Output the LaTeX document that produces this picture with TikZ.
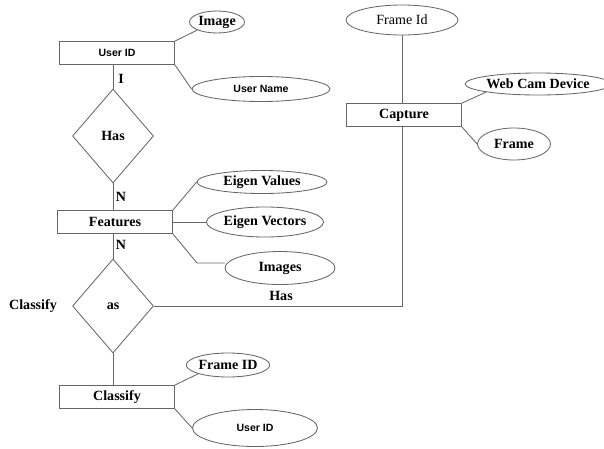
\documentclass[tikz,border=0pt]{standalone}
\usepackage{fontspec}
\setmainfont{Liberation Serif}
\setsansfont{Liberation Sans}
\usetikzlibrary{shapes.geometric}

\begin{document}
\begin{tikzpicture}[x=0.025cm,y=-0.025cm,
  line/.style={draw=gray!80!black,line width=0.6pt},
  entity/.style={line,rectangle,minimum width=115*0.025cm,minimum height=23*0.025cm,inner sep=0pt},
  attrib/.style={line,ellipse,inner sep=0pt},
  relation/.style={line,diamond,minimum width=81*0.025cm,minimum height=94*0.025cm,inner sep=0pt},
  bold/.style={font=\fontsize{10}{12}\selectfont\bfseries},
  narrow/.style={font=\fontsize{7.5}{9}\selectfont\sffamily\bfseries},
  plain/.style={font=\fontsize{10}{12}\selectfont}]

 \useasboundingbox (0,0) rectangle (604,448);

% User side
 \node[entity,narrow] (userid) at (117,53) {User ID};
 \node[attrib,bold,minimum width=55*0.025cm,minimum height=22*0.025cm] (image) at (217,22) {Image};
 \node[attrib,narrow,minimum width=138*0.025cm,minimum height=25*0.025cm] (username) at (261,89) {User Name};
 \draw[line] (userid.north east) -- (image.south west);
 \draw[line] (userid.south east) -- (username.west);

 \node[relation,bold] (has) at (113,136) {Has};
 \draw[line] (has.north) -- (has.north |- userid.south);
 \node[bold] (one) at (121,79) {I};

% Features
 \node[entity,bold] (features) at (115,222) {Features};
 \draw[line] (has.south) -- (has.south |- features.north);
 \node[bold] (n1) at (121,197) {N};
 \node[attrib,bold,minimum width=130*0.025cm,minimum height=23*0.025cm] (eigval) at (262,182) {Eigen Values};
 \node[attrib,bold,minimum width=117*0.025cm,minimum height=30*0.025cm] (eigvec) at (265,222) {Eigen Vectors};
 \node[attrib,bold,minimum width=110*0.025cm,minimum height=33*0.025cm] (images) at (280,268) {Images};
 \coordinate (imgbend) at (197,263);
 \draw[line] (features.north east) -- (eigval.west);
 \draw[line] (features.east) -- (eigvec.west);
 \draw[line] (features.south east) -- (imgbend) -- (imgbend -| images.west);

% Classify as
 \node[relation,bold] (as) at (113,306) {as};
 \draw[line] (as.north) -- (as.north |- features.south);
 \node[bold] (n2) at (121,245) {N};
 \node[bold] (classlbl) at (33,306) {Classify};

% Capture
 \node[entity,bold] (capture) at (404,115) {Capture};
 \node[attrib,plain,minimum width=112*0.025cm,minimum height=30*0.025cm] (frameid) at (402,20) {Frame Id};
 \node[attrib,bold,minimum width=127*0.025cm,minimum height=22*0.025cm] (webcam) at (538,84) {Web Cam Device};
 \node[attrib,bold,minimum width=73*0.025cm,minimum height=32*0.025cm] (frame) at (514,144) {Frame};
 \draw[line] (frameid.south) -- (frameid.south |- capture.north);
 \draw[line] (capture.north east) -- (webcam.south west);
 \draw[line] (capture.south east) -- (frame.west);
 \draw[line] (as.east) -| (frameid.south |- capture.south);
 \node[bold] (haslbl) at (281,296) {Has};

% Classify
 \node[entity,bold] (classify) at (117,397) {Classify};
 \draw[line] (as.south) -- (as.south |- classify.north);
 \node[attrib,bold,minimum width=71*0.025cm,minimum height=24*0.025cm] (frameid2) at (228,365) {Frame ID};
 \node[attrib,narrow,minimum width=125*0.025cm,minimum height=37*0.025cm] (userid2) at (255,428) {User ID};
 \draw[line] (classify.north east) -- (frameid2.south west);
 \draw[line] (classify.south east) -- (userid2.west);

\end{tikzpicture}
\end{document}
